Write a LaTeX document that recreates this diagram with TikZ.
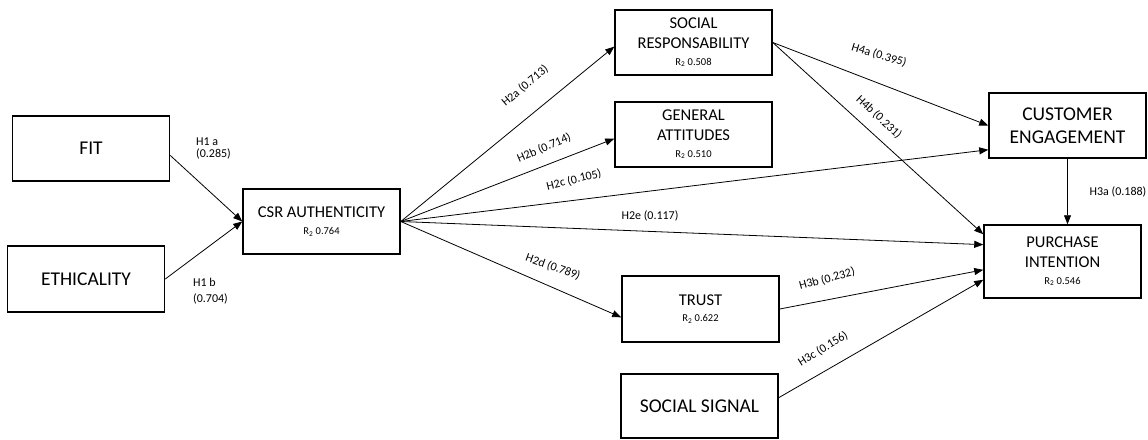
\documentclass[tikz,border=0pt]{standalone}
\usepackage{fontspec}
\setmainfont{Carlito}
\usetikzlibrary{arrows.meta}
\newcommand{\rsq}[1]{{\fontsize{10.5}{12}\selectfont R\textsubscript{2} #1}}

\begin{document}
\begin{tikzpicture}[x=1pt, y=-1pt,
    box/.style={draw, line width=1.5pt, minimum width=157pt, minimum height=65pt, align=center, inner sep=2pt},
    big/.style={font=\fontsize{19.5}{23.4}\selectfont},
    mid/.style={font=\fontsize{16.5}{19.8}\selectfont},
    link/.style={-{Triangle[length=9pt,width=7pt]}, line width=0.8pt},
    lbl/.style={font=\fontsize{12}{14}\selectfont, inner sep=1pt}]

      \useasboundingbox (0,0) rectangle (1148,439);

      \node (fit) at (91,148.5) [box, big] {FIT};
      \node (eth) at (86,279) [box, big, minimum height=66pt] {ETHICALITY};
      \node (csr) at (321.5,221.5) [box, mid] {CSR AUTHENTICITY\\[-2pt]\rsq{0.764}};
      \node (sr) at (693.5,42.5) [box, mid] {SOCIAL\\RESPONSABILITY\\[-3pt]\rsq{0.508}};
      \node (ga) at (693.5,134.5) [box, mid] {GENERAL\\ATTITUDES\\[-3pt]\rsq{0.510}};
      \node (tr) at (700.5,309) [box, mid, minimum height=66pt] {TRUST\\[-3pt]\rsq{0.622}};
      \node (ss) at (699.5,406) [box, big, minimum height=64pt] {SOCIAL SIGNAL};
      \node (ce) at (1067.5,125.5) [box, big] {CUSTOMER\\ENGAGEMENT};
      \node (pi) at (1062.5,261.5) [box, mid, minimum height=73pt] {PURCHASE\\INTENTION\\[-3pt]\rsq{0.546}};

      \draw[link] (fit.-5) -- (csr.west);
      \draw[link] (eth.east) -- (csr.west);
      \draw[link] (csr.east) -- (sr.183);
      \draw[link] (csr.east) -- (ga.183);
      \draw[link] (csr.east) -- (ce.197);
      \draw[link] (csr.east) -- (pi.168);
      \draw[link] (csr.east) -- (tr.186);
      \draw[link] (sr.east) -- (ce.west);
      \draw[link] (sr.east) -- (pi.161);
      \draw[link] (ce.south) -- (ce.south |- pi.north);
      \draw[link] (tr.east) -- (pi.186);
      \draw[link] (ss.6) -- (pi.193);

      \node (h1a) at (195,148) [lbl, anchor=west, align=left] {H1 a\\[-2pt](0.285)};
      \node (h1b) at (192,291) [lbl, anchor=west, align=left] {H1 b\\[1.5pt](0.704)};
      \node (h2a) at (525,86) [lbl, rotate=40] {H2a (0.713)};
      \node (h2b) at (544,148) [lbl, rotate=23] {H2b (0.714)};
      \node (h2c) at (574,180) [lbl, rotate=14] {H2c (0.105)};
      \node (h2e) at (650,216) [lbl] {H2e (0.117)};
      \node (h2d) at (553,267) [lbl, rotate=-20] {H2d (0.789)};
      \node (h3a) at (1118,192) [lbl] {H3a (0.188)};
      \node (h3b) at (827,279) [lbl, rotate=15] {H3b (0.232)};
      \node (h3c) at (823,349) [lbl, rotate=32] {H3c (0.156)};
      \node (h4a) at (879,55) [lbl, rotate=-17] {H4a (0.395)};
      \node (h4b) at (879,117) [lbl, rotate=-43] {H4b (0.231)};
    \end{tikzpicture}
\end{document}
